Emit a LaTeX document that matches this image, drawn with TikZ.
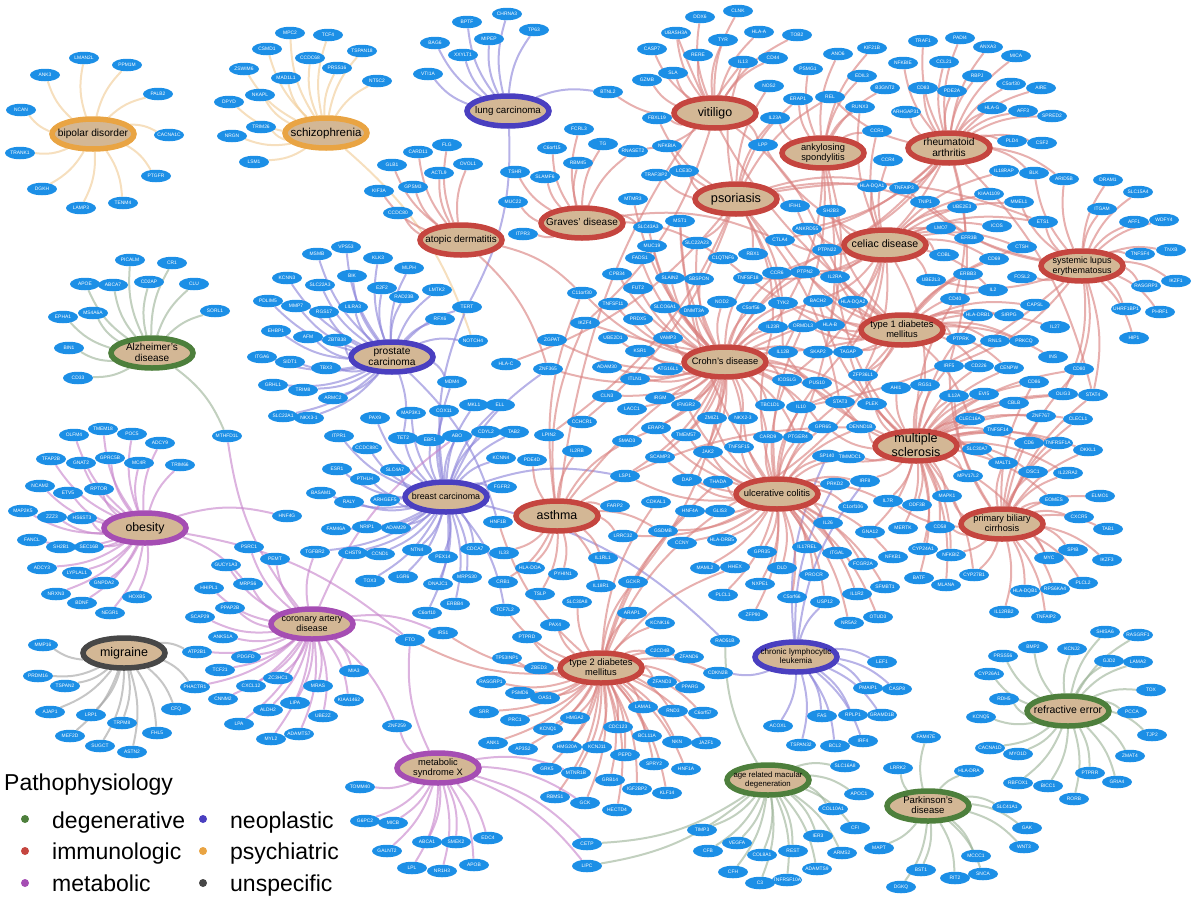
\documentclass[tikz,border=0pt]{standalone}
\usepackage{fontspec}
\setmainfont{Liberation Sans}
\usetikzlibrary{shapes.geometric}
\definecolor{genefill}{HTML}{1C8FE6}
\definecolor{tanfill}{HTML}{D3B795}
\definecolor{immcol}{HTML}{C5453F}
\definecolor{neocol}{HTML}{4A3FC0}
\definecolor{metcol}{HTML}{A54DB3}
\definecolor{degcol}{HTML}{4D7F3C}
\definecolor{psycol}{HTML}{E9A443}
\definecolor{unscol}{HTML}{474747}
\definecolor{immedge}{HTML}{D9807E}
\definecolor{neoedge}{HTML}{8A82D9}
\definecolor{metedge}{HTML}{C784CB}
\definecolor{degedge}{HTML}{9CB397}
\definecolor{psyedge}{HTML}{F1CC96}
\definecolor{unsedge}{HTML}{A3A3A3}
\pgfdeclarelayer{edges}
\pgfsetlayers{edges,main}
\newcommand{\gname}[1]{\makebox[0pt]{#1}}
\newcommand{\dtext}[2]{\fontsize{#1}{#1}\selectfont\makebox[0pt]{\raisebox{-0.3em}[0pt][0pt]{\renewcommand{\arraystretch}{1.12}\begin{tabular}{@{}c@{}}#2\end{tabular}}}}
\tikzset{
  gene/.style={ellipse, fill=genefill, text=white, inner sep=0pt, minimum width=30pt, minimum height=12.5pt, font=\fontsize{4.9}{5}\selectfont},
  disease/.style={ellipse, draw=#1, line width=5.5pt, fill=tanfill, inner sep=0pt, minimum width=82pt, minimum height=30pt},
  link/.style={draw=#1, line width=2pt, opacity=.62},
  legdot/.style={circle, fill=#1, inner sep=0pt, minimum size=8pt},
  legtext/.style={anchor=base west, inner sep=0pt, font=\fontsize{23}{23}\selectfont}
}
\begin{document}
\begin{tikzpicture}[x=1pt, y=-1pt]
  \useasboundingbox (0,0) rectangle (1196,900);

  \node[disease=psycol] (bip) at (93,134) {\dtext{10.2}{bipolar disorder}};
  \node[disease=psycol] (scz) at (326,133) {\dtext{11.5}{schizophrenia}};
  \node[disease=neocol] (lung) at (508,111) {\dtext{9.7}{lung carcinoma}};
  \node[disease=immcol] (atop) at (461,240) {\dtext{9.8}{atopic dermatitis}};
  \node[disease=immcol] (grav) at (582,223) {\dtext{10}{Graves' disease}};
  \node[disease=immcol] (vit) at (715,113) {\dtext{12.4}{vitiligo}};
  \node[disease=immcol] (ankyl) at (823,153) {\dtext{9.3}{ankylosing\\spondylitis}};
  \node[disease=immcol] (rheu) at (949,148) {\dtext{10.2}{rheumatoid\\arthritis}};
  \node[disease=immcol] (pso) at (736,199) {\dtext{12.7}{psoriasis}};
  \node[disease=immcol] (celi) at (885,245) {\dtext{10.6}{celiac disease}};
  \node[disease=immcol] (sle) at (1082,266) {\dtext{9}{systemic lupus\\erythematosus}};
  \node[disease=immcol] (tone) at (902,330) {\dtext{9.3}{type 1 diabetes\\mellitus}};
  \node[disease=immcol] (crohn) at (725,362) {\dtext{9.3}{Crohn's disease}};
  \node[disease=immcol] (ulc) at (777,494) {\dtext{9.4}{ulcerative colitis}};
  \node[disease=immcol] (msc) at (916,446) {\dtext{12.5}{multiple\\sclerosis}};
  \node[disease=immcol] (pbc) at (1002,524) {\dtext{9.2}{primary biliary\\cirrhosis}};
  \node[disease=immcol] (asth) at (557,516) {\dtext{12.4}{asthma}};
  \node[disease=immcol] (ttwo) at (601,668) {\dtext{9.3}{type 2 diabetes\\mellitus}};
  \node[disease=neocol] (cll) at (796,657) {\dtext{8.1}{chronic lymphocytic\\leukemia}};
  \node[disease=degcol] (amd) at (768,780) {\dtext{7.8}{age related macular\\degeneration}};
  \node[disease=degcol] (park) at (928,806) {\dtext{9.6}{Parkinson's\\disease}};
  \node[disease=degcol] (refr) at (1068,711) {\dtext{10.5}{refractive error}};
  \node[disease=metcol] (msx) at (438,768) {\dtext{9.3}{metabolic\\syndrome X}};
  \node[disease=metcol] (cad) at (312,624) {\dtext{9}{coronary artery\\disease}};
  \node[disease=unscol] (migr) at (124,653) {\dtext{12.5}{migraine}};
  \node[disease=metcol] (obes) at (145,528) {\dtext{12.3}{obesity}};
  \node[disease=degcol] (alz) at (152,353) {\dtext{10}{Alzheimer's\\disease}};
  \node[disease=neocol] (pros) at (392,357) {\dtext{10.2}{prostate\\carcinoma}};
  \node[disease=neocol] (brst) at (446,497) {\dtext{8.9}{breast carcinoma}};

  \foreach \g/\x/\y in {LMAN2L/84/58,PPM1M/127/65,ANK3/45/75,PALB2/158/94,NCAN/21/110,CACNA1C/169/135,TRANK1/20/153,PTGFR/156/176,DGKH/42/189,TENM4/123/203,LAMP3/81/208,
    MPC2/290/33,TCF4/328/35,CSMD1/267/49,TSPAN18/362/51,CCDC68/310/58,ZSWIM6/244/69,PRSS16/337/68,MAD1L1/286/78,NT5C2/377/81,NKAPL/260/95,DPYD/229/102,TRIM26/261/127,NRGN/232/136,LSM1/254/162,
    BPTF/467/22,CHRNA3/507/14,TP63/534/30,BAG6/435/43,MIPEP/489/39,XXYLT1/463/55,VTI1A/428/74,
    FLG/447/145,CARD11/418/152,GLB1/392/165,OVOL1/468/164,ACTL9/439/173,KIF3A/379/191,GPSM3/413/187,CCDC80/398/213,
    FCRL3/579/129,TG/603/144,C6orf15/552/148,RBM45/578/163,TSHR/515/172,SLAMF6/545/177,MUC22/513/202,ITPR3/523/234,C11orf30/582/293}
    \node[gene] (\g) at (\x,\y) {\gname{\g}};

  \foreach \g/\x/\y in {DDX6/700/17,CLNK/738/11,UBASH3A/676/33,HLA-A/759/32,TOB2/797/35,CASP7/652/49,TYR/723/40,RERE/698/55,IL13/743/62,CD44/773/58,ANO6/838/54,KIF21B/872/48,SLA/673/73,GZMB/647/80,PSMG1/808/69,EDIL3/862/76,NOS2/769/86,BTNL2/608/92,ERAP1/798/99,REL/830/97,B3GNT2/885/88,RUNX3/860/107,IL23A/775/118,FBXL19/657/118,CCR1/877/131,LPP/763/145,RNASET2/633/151,NFKBIA/667/146,TRAF3IP2/656/175,LCE3D/684/171,MTMR3/633/199,IFIH1/795/206,SH2B3/831/211,HLA-DQA1/872/186,CCR4/888/160,MST1/680/221,SLC43A3/648/227,ANKRD55/807/229,MUC19/652/246,SLC22A23/697/243,CTLA4/780/240,PTPN22/827/250,FADS1/640/258,C1QTNF6/723/258,RBX1/753/254,CCR6/777/273,PTPN2/805/272,IL2RA/835/277,CPB34/617/274,SLAIN2/670/278,SBSPON/699/279,TNFSF18/748/278,FUT2/638/288}
    \node[gene] (\g) at (\x,\y) {\gname{\g}};

  \foreach \g/\x/\y in {TRAF1/923/41,PADI4/960/38,ANXA3/988/47,MICA/1016/56,NFKBIE/903/63,CCL21/944/62,RBPJ/977/76,C5orf30/1011/84,AIRE/1041/88,CD83/923/88,PDE2A/952/91,ARHGAP31/906/112,HLA-G/992/108,AFF3/1023/111,SPRED2/1052/116,PLD4/1012/141,CSF2/1042/143,IL18RAP/1004/171,BLK/1034/173,ARID5B/1064/179,DRAM1/1108/180,SLC15A4/1138/192,TNFAIP3/904/188,KIAA1109/989/194,MMEL1/1019/202,TNIP1/925/202,UBE2E3/962/207,ITGAM/1102/209,AFF1/1134/222,WDFY4/1164/220,ETS1/1043/222,ICOS/997/226,LMO7/941/228,EFR3B/969/238,CTSH/1022/247,TNFSF4/1140/254,TNXB/1171/250,COBL/944/255,CD69/994/259,ERBB3/968/274,FOSL2/1022/277,UBE2L3/931/280,RASGRP3/1146/286,IKZF1/1176/281,IL2/993/290,CD40/955/299}
    \node[gene] (\g) at (\x,\y) {\gname{\g}};

  \foreach \g/\x/\y in {CAPSL/1035/305,UHRF1BP1/1126/309,PHRF1/1160/312,HLA-DRB1/978/315,SIRPG/1009/315,IL27/1055/327,PTPRK/961/339,RNLS/995/341,PRKCQ/1024/341,HIP1/1134/338,INS/1053/357,IRF5/949/366,CD226/979/366,CENPW/1009/368,CD80/1079/369,CD86/1034/382,AHI1/896/388,RGS1/925/385,IL12A/954/396,EVI5/984/394,OLIG3/1063/394,STAT4/1093/395,CBLB/1014/403,ZNF767/1041/416,CLECL1/1078/419,CLEC16A/970/419,TNFSF14/998/430,CD6/1029/443,TNFRSF1A/1058/443,DKKL1/1088/450,SLC30A7/977/449,MALT1/1003/463,DSC1/1033/472,IL22RA2/1068/473,MPV17L2/968/476,MAPK1/947/496,EOMES/1054/500,ELMO1/1100/496,ODF3B/917/505,CXCR5/1079/517,TAB1/1108/529,CD58/940/527,MERTK/903/528,CYP24A1/923/549,NFKBIZ/951/555,SPIB/1073/550,MYC/1049/558,IKZF3/1107/560,CYP27B1/974/575,BATF/919/578,MLANA/946/585,PLCL2/1083/583,HLA-DQB1/1025/591,RPS6KA4/1055/589,IL12RB2/1004/612,TNFAIP2/1046/617}
    \node[gene] (\g) at (\x,\y) {\gname{\g}};

  \foreach \g/\x/\y in {TNFSF11/613/304,SLCO6A1/665/307,DNMT3A/694/311,NOD2/722/302,C5orf56/751/308,TYK2/783/303,BACH2/818/301,HLA-DQA2/853/302,PRDX5/638/319,IL23R/773/327,ORMDL3/803/326,HLA-B/830/325,UBE2D1/613/338,VAMP3/668/338,KSR1/640/351,IL12B/783/352,SKAP2/818/352,TAGAP/848/352,ADAM30/607/367,ATG16L1/668/369,ITLN1/635/379,ICOSLG/787/380,PUS10/817/383,ZFP36L1/863/375,CLN3/607/396,IRGM/660/398,IFNGR2/686/405,TBC1D1/770/405,IL10/801/407,STAT3/840/402,PLEK/872/404,LACC1/632/409,ZMIZ1/712/418,NKX2-3/743/418,GPR65/823/427,DENND1B/861/427,ERAP2/656/428,TMEM57/686/435,SMAD3/627/441,CARD9/768/437,PTGER4/798/437,JAK2/708/452,TNFSF15/739/447,SCAMP3/660/457,SP140/827/456,TIMMDC1/850/457,LSP1/625/476,DAP/687/480,THADA/718/482,PRKD2/835/484,IRF8/865/481,FARP2/615/506,CDKAL1/656/502,HNF4A/690/511,GLIS3/720/511,C1orf106/853/507,IL7R/888/501,IL26/828/523,LRRC32/623/536,GSDMB/663/531,CCNY/682/543,HLA-DRB5/722/540,GNA12/870/532,IL1RL1/603/558,GPR35/762/552,IL17REL/807/547,ITGAL/837/553,NFKB1/893/557,FCGR2A/863/564,MAML2/705/568,HHEX/735/567,DLD/782/568,PROCR/814/575,GCKR/633/582,NXPE1/760/584,SFMBT1/885/587,IL18R1/601/586,PLCL1/723/595,C5orf66/792/597,IL1R2/857/594}
    \node[gene] (\g) at (\x,\y) {\gname{\g}};

  \foreach \g/\x/\y in {MSMB/317/254,VPS53/346/247,KLK3/378/258,KCNN3/287/278,BIK/352/276,MLPH/409/268,SLC22A3/320/285,E2F2/382/288,LMTK2/437/290,RAD23B/404/297,PDLIM5/268/301,MMP7/296/306,EHBP1/276/331,ITGA6/262/357,SIDT1/290/362,GRHL1/273/385,SLC22A1/283/416,
    LILRA3/353/307,RGS17/324/312,RFX6/440/319,TERT/467/307,AFM/308/337,ZBTB38/337/340,NOTCH4/473/341,ZGPAT/552/340,IKZF4/585/323,HLA-C/506/364,ZNF365/548/369,TBX3/326/368,MDM4/452/382,TRIM8/303/390,ARMC2/333/398,MKL1/474/405,ELL/500/405,NKX3-1/309/418,MAP3K1/411/413,COX11/444/411,PAX9/375/418,CCHCR1/582/422,ITPR1/339/436,TET2/403/438,EBF1/430/440,ABO/457/436,CDYL2/486/432,TAB2/514/432,LPIN2/549/435,CCDC88C/367/448,KCNN4/501/458,PDE4D/532/460,IL2RB/577/451,ESR1/337/469,SLC4A7/395/470,PTHLH/365/479,FGFR2/502/487,BASAM1/321/493,RALY/349/502,ARHGEF5/385/500,HNF1B/498/522,FAM46A/336/529,NRIP1/367/527,ADAM29/396/528,TGFBR2/315/552,CHST9/353/553,CCND1/380/554,NTN4/417/550,CDCA7/475/549,PEX14/443/557,IL33/504/553,HLA-DOA/530/568,PYHIN1/563/574,TOX3/370/581,LGR6/403/577,DNAJC1/438/584,MRPS30/467/577,CRB1/503/582,TSLP/540/594}
    \node[gene] (\g) at (\x,\y) {\gname{\g}};

  \foreach \g/\x/\y in {PICALM/130/260,CR1/172/263,APOE/85/284,ABCA7/113/285,CD2AP/149/282,CLU/194/284,EPHA1/63/317,MS4A6A/93/313,SORL1/215/311,BIN1/69/348,CD33/78/378,MTHFD1L/227/436,
    OLFM4/74/435,TMEM18/103/429,POC5/132/434,ADCY9/160/443,TFAP2B/51/459,GNAT2/81/463,GPRC5B/110/458,MC4R/139/463,TRIM66/180/465,NCAM2/40/486,ETV5/68/493,RPTOR/99/489,MAP2K5/23/511,ZZZ3/52/517,HS6ST3/82/518,HNF4G/287/516,FANCL/32/540,SH2B1/61/547,SEC16B/89/547,PSRC1/249/547,PEMT/275/559,GUCY1A3/226/565,ADCY3/42/568,LYPLAL1/77/573,GNPDA2/104/583,HHIPL1/209/588,MRPS6/248/584,NRXN3/56/594,HOXB5/137/597,BDNF/82/603,NEGR1/110/613,
    SCAP29/200/617,PPAP2B/230/608,MMP16/43/645,ANKS1A/223/637,ATP2B1/197/652,PDGFD/246/657,PRDM16/38/676,TSPAN2/65/686,TCF21/220/670,ZC3HC1/278/678,CXCL12/251/686,PHACTR1/195/687,CNNM2/223/699,CFQ/176/709,AJAP1/50/712,LRP1/91/715,ALDH2/268/710,LIPA/295/703,TRPM8/122/723,LPA/239/724,FHL5/157/733,MEF2D/70/736,MYL2/271/739,SUGCT/100/746,ASTN2/132/752,ADAMTS7/299/734,MIA3/354/671,MRAS/318/686,KIAA1462/349/700,UBE2Z/323/716,ZNF259/397/726}
    \node[gene] (\g) at (\x,\y) {\gname{\g}};

  \foreach \g/\x/\y in {C6orf10/427/613,ERBB4/455/604,TCF7L2/505/610,FTO/410/640,IRS1/443/633,PAX4/555/625,PTPRD/527/637,TP53INP1/507/658,ZBED3/539/668,RASGRP1/491/682,PSMD6/520/693,OAS1/545/698,SRR/484/712,PRC1/515/720,HMGA2/575/718,KCNQ1/548/729,ANK1/493/743,AP3S2/523/749,HMG20A/567/747,KCNJ11/597/747,GRK5/547/769,MTNR1B/576/773,RBMS1/555/797,GCK/585/803,CETP/587/844,LIPC/587/866,SLC30A8/577/602,
    TOMM40/360/787,G6PC2/365/821,MICB/393/823,GALNT2/387/851,ABCA1/427/842,SMEK2/456/842,EDC4/488/838,LPL/412/868,NR1H3/442/871,APOB/474/865,
    ARAP1/632/613,ZFP90/753/615,OTUD3/878/617,KCNK16/660/623,NR5A2/849/623,USP12/825/602,RAD51B/725/641,C2CD4B/660/651,ZFAND6/689/657,LEF1/882/662,CDKN2B/718/673,ZFAND3/662/682,PPARG/690/687,PMAIP1/868/688,CASP8/897/689,LAMA1/643/707,RND3/673/711,C6orf57/703/713,FAS/822/716,RPLP1/853/715,GRAMD1B/882/715,ACOXL/778/726,CDC123/618/727,BCL11A/647/736,NKN/677/742,JAZF1/706/743,TSPAN32/801/745,BCL2/835/746,IRF4/863/741,PEPD/625/755,SPRY2/654/764,HNF1A/686/769,SLC16A8/845/766,GRB14/610/780,IGF2BP2/637/789,KLF14/667/793,APOC1/859/794,HECTD4/617/810,COL10A1/833/809,CFI/855/828,TIMP3/702/830,IER3/818/836,VEGFA/737/843,REST/793/851,ARMS2/842/853,CFB/708/851,COL8A1/762/855,ADAMTS9/817/869,CFH/733/872,TNFRSF10A/787/880,C3/760/883}
    \node[gene] (\g) at (\x,\y) {\gname{\g}};

  \foreach \g/\x/\y in {SHISA6/1105/632,RASGRF1/1138/635,BMP2/1033/647,KCNJ2/1072/649,PRSS56/1003/656,GJD2/1109/661,LAMA2/1138/662,CYP26A1/989/674,TOX/1151/690,RDH5/1004/699,PCCA/1132/712,KCNQ5/981/717,TJP2/1152/735,CACNA1D/990/748,MYO1D/1018/754,ZMAT4/1130/756,PTPRR/1090/773,GRIA4/1117/782,RBFOX1/1018/783,BICC1/1048/786,RORB/1074/799,
    FAM47E/926/737,LRRK2/898/768,HLA-DRA/969/771,SLC41A1/1007/807,GAK/1027/828,WNT3/1024/847,MCCC1/976/856,BST1/921/870,SNCA/983/874,RIT2/955/878,DGKQ/901/887,MAPT/879/848}
    \node[gene] (\g) at (\x,\y) {\gname{\g}};

  \begin{pgfonlayer}{edges}
    \foreach \g in {LMAN2L,PPM1M,ANK3,PALB2,NCAN,CACNA1C,TRANK1,PTGFR,DGKH,TENM4,LAMP3}
      \draw[link=psyedge] (bip) to[bend left=15] (\g);
    \foreach \g in {MPC2,TCF4,CSMD1,TSPAN18,CCDC68,ZSWIM6,PRSS16,MAD1L1,NT5C2,NKAPL,DPYD,TRIM26,NRGN,LSM1,NOTCH4}
      \draw[link=psyedge] (scz) to[bend left=15] (\g);
    \foreach \g in {BPTF,CHRNA3,TP63,BAG6,MIPEP,XXYLT1,VTI1A,BTNL2,TERT}
      \draw[link=neoedge] (lung) to[bend left=15] (\g);
    \foreach \g in {MSMB,VPS53,KLK3,KCNN3,BIK,MLPH,SLC22A3,E2F2,LMTK2,RAD23B,PDLIM5,MMP7,RGS17,LILRA3,RFX6,TERT,EHBP1,AFM,ZBTB38,ITGA6,SIDT1,TBX3,GRHL1,TRIM8,ARMC2,SLC22A1,NKX3-1,MDM4,NOTCH4,HNF1B,TET2}
      \draw[link=neoedge] (pros) to[bend left=15] (\g);
    \foreach \g in {MAP3K1,COX11,PAX9,ITPR1,TET2,EBF1,ABO,CDYL2,TAB2,MKL1,ELL,CCDC88C,ESR1,SLC4A7,PTHLH,BASAM1,RALY,ARHGEF5,FAM46A,NRIP1,ADAM29,TGFBR2,CHST9,CCND1,NTN4,PEX14,CDCA7,TOX3,LGR6,DNAJC1,MRPS30,KCNN4,FGFR2,C6orf10,ERBB4,MDM4,ZNF365,TCF7L2,LSP1,RAD51B,TERT}
      \draw[link=neoedge] (brst) to[bend left=15] (\g);
    \foreach \g in {LEF1,PMAIP1,CASP8,FAS,RPLP1,GRAMD1B,ACOXL,TSPAN32,BCL2,IRF4,CDKN2B,USP12,IRF8,SP140,PRKD2}
      \draw[link=neoedge] (cll) to[bend left=15] (\g);
    \foreach \g in {FLG,CARD11,GLB1,OVOL1,ACTL9,KIF3A,GPSM3,CCDC80,C11orf30,ZNF365}
      \draw[link=immedge] (atop) to[bend left=15] (\g);
    \foreach \g in {FCRL3,TG,C6orf15,RBM45,TSHR,SLAMF6,MUC22,ITPR3,RNASET2,CTLA4,C1QTNF6,SLC43A3}
      \draw[link=immedge] (grav) to[bend left=15] (\g);
    \foreach \g in {DDX6,CLNK,UBASH3A,HLA-A,TOB2,CASP7,TYR,RERE,CD44,SLA,GZMB,FBXL19,BTNL2,RNASET2,LPP,IKZF4,PTPN22}
      \draw[link=immedge] (vit) to[bend left=15] (\g);
    \foreach \g in {IL13,NOS2,IL23A,NFKBIA,TRAF3IP2,LCE3D,IFIH1,ERAP1,REL,SLC22A23,FBXL19,RBX1,TYK2,IL12B,IL23R,TNFAIP3,TNIP1,STAT3,ETS1,HLA-C,LPIN2,CCHCR1}
      \draw[link=immedge] (pso) to[bend left=15] (\g);
    \foreach \g in {ANO6,KIF21B,PSMG1,EDIL3,B3GNT2,RUNX3,IL23A,CCR1,ERAP1,IL12B,IL23R,HLA-B,PTGER4}
      \draw[link=immedge] (ankyl) to[bend left=15] (\g);
    \foreach \g in {TRAF1,PADI4,ANXA3,MICA,NFKBIE,CCL21,RBPJ,C5orf30,AIRE,CD83,PDE2A,ARHGAP31,HLA-G,AFF3,SPRED2,PLD4,CSF2,BLK,ARID5B,TNFAIP3,IL2RA,CCR6,PTPN22,CD40,IRF5,STAT4,CTLA4,ANKRD55,REL}
      \draw[link=immedge] (rheu) to[bend left=15] (\g);
    \foreach \g in {LPP,CCR1,CCR4,HLA-DQA1,SH2B3,IL18RAP,KIAA1109,MMEL1,UBE2E3,ICOS,LMO7,EFR3B,CTSH,COBL,CD69,IL2,TAGAP,PTPN2,RGS1,ETS1,ZFP36L1,TNFSF18,CTLA4,ANKRD55,RUNX3,PUS10,ICOSLG,BACH2,HLA-DQA2,UBE2L3}
      \draw[link=immedge] (celi) to[bend left=15] (\g);
    \foreach \g in {ARID5B,DRAM1,SLC15A4,ITGAM,AFF1,WDFY4,TNFSF4,TNXB,RASGRP3,IKZF1,ETS1,BLK,UHRF1BP1,PHRF1,HIP1,UBE2L3,TNIP1,IRF5,STAT4,CD80,IL10,FOSL2,OLIG3,MMEL1,TNFAIP3}
      \draw[link=immedge] (sle) to[bend left=15] (\g);
    \foreach \g in {HLA-DQA2,BACH2,HLA-B,ORMDL3,SKAP2,TAGAP,ZFP36L1,SIRPG,HLA-DRB1,CAPSL,PTPRK,RNLS,PRKCQ,IL27,INS,CD226,CENPW,IL2RA,PTPN2,CLEC16A,GLIS3,IL10,TYK2,ERBB3,IL2,CTSH,UBASH3A,IFIH1,CTLA4,PTPN22,C1QTNF6,CD69,IKZF4,SH2B3}
      \draw[link=immedge] (tone) to[bend left=15] (\g);
    \foreach \g in {TNFSF11,SLCO6A1,DNMT3A,NOD2,C5orf56,TYK2,PRDX5,IL23R,ORMDL3,UBE2D1,VAMP3,KSR1,IL12B,SKAP2,ADAM30,ATG16L1,ITLN1,ICOSLG,PUS10,CLN3,IRGM,IFNGR2,TBC1D1,IL10,STAT3,LACC1,ZMIZ1,NKX2-3,GPR65,ERAP2,TMEM57,SMAD3,CARD9,PTGER4,JAK2,TNFSF15,SCAMP3,LSP1,DAP,CCR6,PTPN2,FUT2,MST1,MUC19,SLC22A23,FADS1,CPB34,SLAIN2,SBSPON,TNFSF18,ZGPAT,MTMR3,SLC43A3,C11orf30,ZNF365,PLEK,BACH2,DENND1B,GCKR,PTPN22}
      \draw[link=immedge] (crohn) to[bend left=15] (\g);
    \foreach \g in {IL23R,IL10,CARD9,GPR65,PTGER4,JAK2,TNFSF15,NKX2-3,ZMIZ1,PRKD2,IRF8,C1orf106,IL7R,IL26,HLA-DRB5,GPR35,IL17REL,ITGAL,NFKB1,FCGR2A,MAML2,DLD,PROCR,NXPE1,SFMBT1,PLCL1,C5orf66,IL1R2,DAP,THADA,LSP1,SCAMP3,CCNY,GSDMB,LRRC32,SP140,TIMMDC1,DENND1B,STAT3,ICOSLG,PUS10,ORMDL3,IFNGR2,ERAP2,USP12,OTUD3,NR5A2,ZFP90,HNF4A,MST1,TMEM57}
      \draw[link=immedge] (ulc) to[bend left=15] (\g);
    \foreach \g in {AHI1,RGS1,IL12A,EVI5,CBLB,CLEC16A,TNFSF14,SLC30A7,MALT1,MPV17L2,MAPK1,ODF3B,CD58,MERTK,CYP24A1,NFKBIZ,CYP27B1,BATF,MLANA,IRF8,TIMMDC1,SP140,DENND1B,STAT3,PLEK,IL7R,GNA12,IL2RA,CD6,TNFRSF1A,DKKL1,CD226,CD86,CD80,ZNF767,CLECL1,EOMES,IL22RA2,DSC1,TAGAP,BACH2,IL12B,STAT4,MYC,CD40,HLA-DRB1,ZFP36L1,GPR65,IRF5,CENPW,OLIG3}
      \draw[link=immedge] (msc) to[bend left=15] (\g);
    \foreach \g in {IL12A,IL12RB2,TNFAIP2,CXCR5,TAB1,ELMO1,SPIB,MYC,IKZF3,PLCL2,HLA-DQB1,RPS6KA4,EOMES,DSC1,IL22RA2,DKKL1,CLECL1,STAT4,MAPK1,CD58,NFKBIZ,TNFRSF1A,IRF5,MALT1,CD80,IL7R,CD86,ZNF767,CYP27B1}
      \draw[link=immedge] (pbc) to[bend left=15] (\g);
    \foreach \g in {IL13,TSLP,IL33,HLA-DOA,PYHIN1,CRB1,IL2RB,IL1RL1,IL18R1,GSDMB,LRRC32,SMAD3,PDE4D,DENND1B,C11orf30,IKZF4,FARP2,ORMDL3}
      \draw[link=immedge] (asth) to[bend left=15] (\g);
    \foreach \g in {TCF7L2,PAX4,PTPRD,TP53INP1,ZBED3,RASGRP1,PSMD6,OAS1,SRR,PRC1,HMGA2,KCNQ1,ANK1,AP3S2,HMG20A,KCNJ11,GRK5,MTNR1B,RBMS1,GCK,IRS1,FTO,ARAP1,KCNK16,C2CD4B,ZFAND6,ZFAND3,PPARG,LAMA1,RND3,C6orf57,CDC123,BCL11A,NKN,JAZF1,PEPD,SPRY2,HNF1A,GRB14,IGF2BP2,KLF14,HECTD4,CDKN2B,SLC30A8,CDKAL1,HNF4A,GLIS3,THADA,HHEX,GCKR,HNF1B}
      \draw[link=immedge] (ttwo) to[bend left=15] (\g);
    \foreach \g in {PPAP2B,SCAP29,ANKS1A,ATP2B1,PDGFD,TCF21,ZC3HC1,CXCL12,PHACTR1,CNNM2,ALDH2,LIPA,LPA,MYL2,ADAMTS7,MIA3,MRAS,KIAA1462,UBE2Z,ZNF259,PSRC1,PEMT,GUCY1A3,HHIPL1,MRPS6,TGFBR2,MTHFD1L,FTO,ABO,IRS1}
      \draw[link=metedge] (cad) to[bend left=15] (\g);
    \foreach \g in {TOMM40,G6PC2,MICB,GALNT2,ABCA1,SMEK2,EDC4,LPL,NR1H3,APOB,CETP,LIPC,GCK,ZNF259,FTO,MTNR1B}
      \draw[link=metedge] (msx) to[bend left=15] (\g);
    \foreach \g in {OLFM4,TMEM18,POC5,ADCY9,TFAP2B,GNAT2,GPRC5B,MC4R,TRIM66,NCAM2,ETV5,RPTOR,MAP2K5,ZZZ3,HS6ST3,FANCL,SH2B1,SEC16B,ADCY3,LYPLAL1,GNPDA2,NRXN3,HOXB5,BDNF,NEGR1,HNF4G,FTO,MRPS6}
      \draw[link=metedge] (obes) to[bend left=15] (\g);
    \foreach \g in {PICALM,CR1,APOE,ABCA7,CD2AP,CLU,EPHA1,MS4A6A,SORL1,BIN1,CD33,MTHFD1L}
      \draw[link=degedge] (alz) to[bend left=15] (\g);
    \foreach \g in {MMP16,PRDM16,TSPAN2,AJAP1,LRP1,MEF2D,SUGCT,ASTN2,TRPM8,FHL5,CFQ,PHACTR1,ATP2B1}
      \draw[link=unsedge] (migr) to[bend left=15] (\g);
    \foreach \g in {SLC16A8,APOC1,COL10A1,CFI,IER3,ARMS2,ADAMTS9,REST,TNFRSF10A,C3,COL8A1,CFH,VEGFA,CFB,TIMP3,CETP,LIPC,RAD51B}
      \draw[link=degedge] (amd) to[bend left=15] (\g);
    \foreach \g in {FAM47E,LRRK2,HLA-DRA,SLC41A1,GAK,WNT3,MCCC1,SNCA,RIT2,BST1,DGKQ,MAPT}
      \draw[link=degedge] (park) to[bend left=15] (\g);
    \foreach \g in {SHISA6,RASGRF1,BMP2,KCNJ2,PRSS56,GJD2,LAMA2,CYP26A1,TOX,RDH5,PCCA,KCNQ5,TJP2,CACNA1D,MYO1D,ZMAT4,PTPRR,GRIA4,RBFOX1,BICC1,RORB}
      \draw[link=degedge] (refr) to[bend left=15] (\g);
  \end{pgfonlayer}

  \node[legtext] (legtitle) at (4,790) {Pathophysiology};
  \node[legdot=degcol] (dotdeg) at (25,819) {};
  \node[legtext] (txtdeg) at (52,828) {degenerative};
  \node[legdot=immcol] (dotimm) at (25,851) {};
  \node[legtext] (txtimm) at (52,859) {immunologic};
  \node[legdot=metcol] (dotmet) at (25,883) {};
  \node[legtext] (txtmet) at (52,891) {metabolic};
  \node[legdot=neocol] (dotneo) at (203,819) {};
  \node[legtext] (txtneo) at (230,828) {neoplastic};
  \node[legdot=psycol] (dotpsy) at (203,851) {};
  \node[legtext] (txtpsy) at (230,859) {psychiatric};
  \node[legdot=unscol] (dotuns) at (203,883) {};
  \node[legtext] (txtuns) at (230,891) {unspecific};
\end{tikzpicture}
\end{document}
